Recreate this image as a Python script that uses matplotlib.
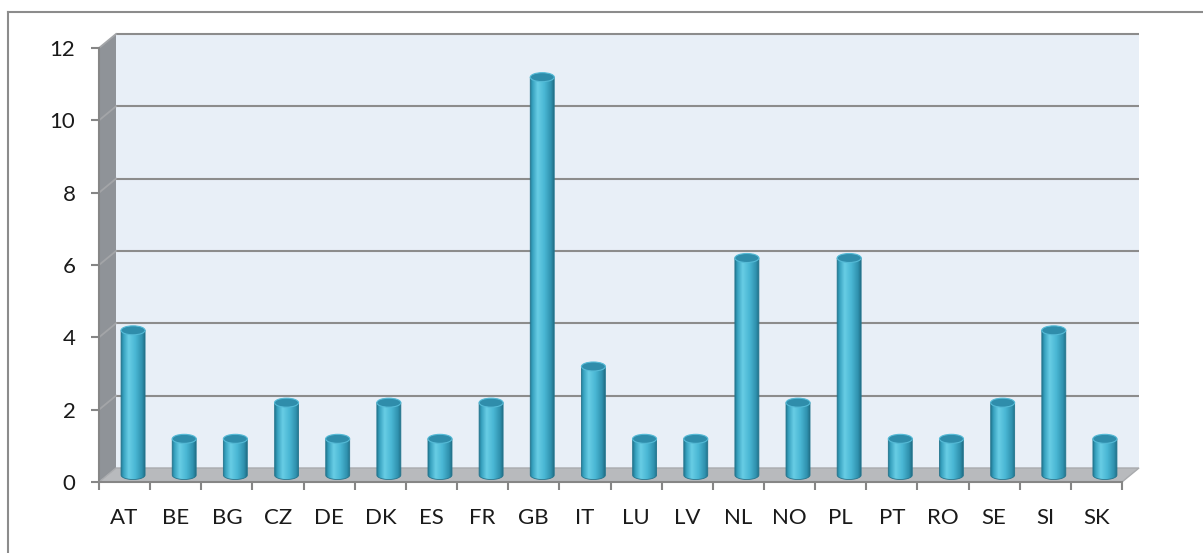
import numpy as np
import matplotlib
matplotlib.use("Agg")
import matplotlib.pyplot as plt
from matplotlib.patches import Polygon, Ellipse, PathPatch
from matplotlib.path import Path
from matplotlib.lines import Line2D
from matplotlib.colors import LinearSegmentedColormap

countries = ["AT", "BE", "BG", "CZ", "DE", "DK", "ES", "FR", "GB", "IT",
             "LU", "LV", "NL", "NO", "PL", "PT", "RO", "SE", "SI", "SK"]
counts = [4, 1, 1, 2, 1, 2, 1, 2, 11, 3, 1, 1, 6, 2, 6, 1, 1, 2, 4, 1]
y_ticks = [0, 2, 4, 6, 8, 10, 12]

plt.rcParams["font.family"] = ["Lato", "DejaVu Sans"]

W, H = 1203, 553
fig = plt.figure(figsize=(W / 100, H / 100), dpi=100)
ax = fig.add_axes([99 / W, 71 / H, 1023 / W, 434 / H])

n = len(countries)
ymax = 12
# depth offset of the back wall, in data units (17 px right, 14 px up)
DX = 17 * n / 1023
DY = 14 * ymax / 434


def proj(x, y, z):
    return x + z * DX, y + z * DY


grid_c = "#8c8c8c"

# back wall
back = [proj(0, 0, 1), proj(n, 0, 1), proj(n, ymax, 1), proj(0, ymax, 1)]
ax.add_patch(Polygon(back, closed=True, fc="#e8eff7", ec="none", zorder=0,
                     clip_on=False))
# left wall
left = [proj(0, 0, 0), proj(0, ymax, 0), proj(0, ymax, 1), proj(0, 0, 1)]
ax.add_patch(Polygon(left, closed=True, fc="#8f9398", ec="none", zorder=1,
                     clip_on=False))
# floor
floor = [proj(0, 0, 0), proj(n, 0, 0), proj(n, 0, 1), proj(0, 0, 1)]
ax.add_patch(Polygon(floor, closed=True, fc="#b8babd", ec="#a9abae",
                     lw=1, zorder=1, clip_on=False))

# gridlines on back and left wall
for v in y_ticks[1:]:
    x0, y0 = proj(0, v, 1)
    x1, y1 = proj(n, v, 1)
    ax.plot([x0, x1], [y0, y1], color=grid_c, lw=1.5, zorder=1.5,
            solid_capstyle="butt", clip_on=False)
    xa, ya = proj(0, v, 0)
    ax.plot([xa, x0], [ya, y0], color="#a3a5a8", lw=1.3, zorder=1.5,
            clip_on=False)

# cylinders
cyl = LinearSegmentedColormap.from_list(
    "cyl",
    [(0.0, "#227891"), (0.1, "#36a0be"), (0.32, "#68cde5"),
     (0.6, "#4ab7d4"), (0.88, "#2f91ae"), (1.0, "#216f87")])
grad = np.linspace(0, 1, 256).reshape(1, -1)
bw = 24 * n / 1023
eh = 9 * ymax / 434

for i, v in enumerate(counts):
    cx, cy0 = proj(i + 0.5, 0, 0.5)
    _, cy1 = proj(i + 0.5, v, 0.5)
    xl, xr = cx - bw / 2, cx + bw / 2
    t = np.linspace(np.pi, 2 * np.pi, 40)
    arc = np.column_stack([cx + bw / 2 * np.cos(t), cy0 + eh / 2 * np.sin(t)])
    verts = np.vstack([[xl, cy1], [xl, cy0], arc, [xr, cy1], [xl, cy1]])
    body = PathPatch(Path(verts, closed=True), transform=ax.transData,
                     fc="none", ec="none")
    im = ax.imshow(grad, cmap=cyl, aspect="auto", interpolation="bilinear",
                   extent=[xl, xr, cy0 - eh / 2, cy1], zorder=3)
    im.set_clip_path(body)
    ax.add_patch(PathPatch(Path(verts, closed=True), fc="none",
                           ec="#23758e", lw=0.6, zorder=3.1, clip_on=False))
    ax.add_patch(Ellipse((cx, cy1), bw, eh, fc="#2f8dab", ec="#55bad6",
                         lw=0.8, zorder=3.2, clip_on=False))

ax.set_xlim(0, n)
ax.set_ylim(0, ymax)

for s in ["top", "right"]:
    ax.spines[s].set_visible(False)
for s in ["left", "bottom"]:
    ax.spines[s].set_color("#868686")
    ax.spines[s].set_linewidth(1.5)
    ax.spines[s].set_zorder(4)

ax.set_yticks(y_ticks)
ax.tick_params(axis="y", length=6, width=1.5, color="#868686", pad=11,
               labelsize=16, labelcolor="#1a1a1a")
ax.set_xticks(np.arange(0, n + 1))
ax.set_xticklabels([])
ax.tick_params(axis="x", which="major", length=6, width=1.5, color="#868686")
ax.set_xticks(np.arange(n) + 0.5, minor=True)
ax.set_xticklabels(countries, minor=True)
ax.tick_params(axis="x", which="minor", length=0, pad=19, labelsize=16,
               labelcolor="#1a1a1a")
ax.patch.set_visible(False)

# chart area frame (only left and top edges are visible)
fig.add_artist(Line2D([8 / W, 8 / W], [0, 1 - 12 / H],
                      transform=fig.transFigure, color="#8c8c8c", lw=1.5))
fig.add_artist(Line2D([8 / W, 1], [1 - 12 / H, 1 - 12 / H],
                      transform=fig.transFigure, color="#8c8c8c", lw=1.5))

fig.savefig("out.png", dpi=100)
